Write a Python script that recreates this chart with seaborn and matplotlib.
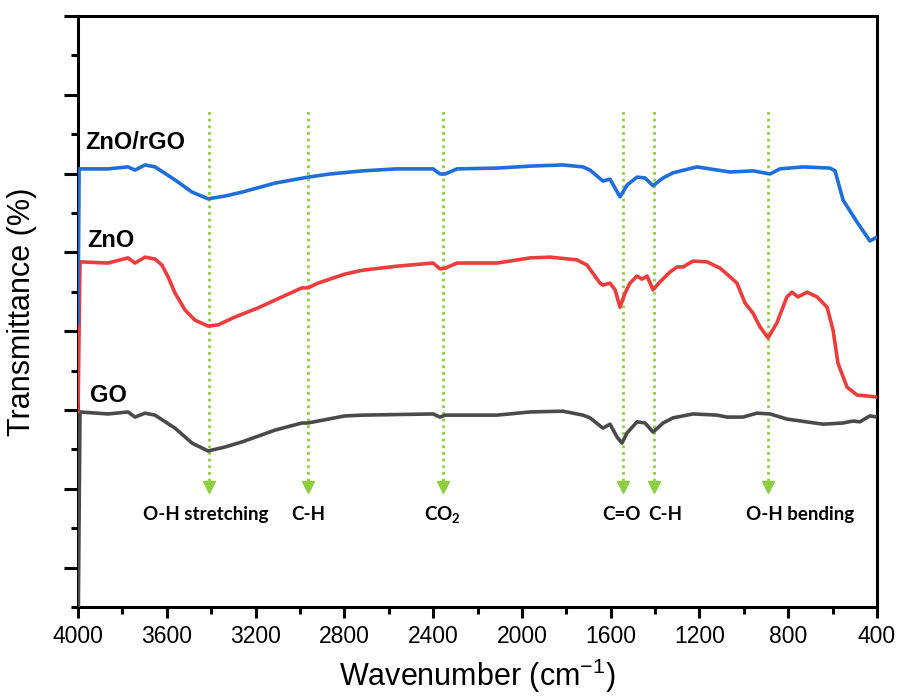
import numpy as np
import pandas as pd
import matplotlib
matplotlib.use("Agg")
import matplotlib.pyplot as plt
import seaborn as sns

# FTIR spectra (wavenumber in cm^-1, transmittance in stacked arbitrary units)
go_wn = [4000, 3991, 3865, 3775, 3743, 3698, 3653, 3563, 3486, 3414, 3338, 3261,
         3112, 2991, 2964, 2797, 2716, 2400, 2369, 2346, 2112, 1963, 1815, 1725,
         1693, 1635, 1603, 1571, 1549, 1526, 1481, 1445, 1409, 1364, 1319, 1229,
         1121, 1076, 1004, 941, 882, 806, 643, 553, 508, 477, 432, 400]
go_t = [-1.0, 4.95, 4.90, 4.95, 4.82, 4.92, 4.87, 4.54, 4.16, 3.96, 4.06, 4.19,
        4.49, 4.67, 4.67, 4.85, 4.87, 4.90, 4.82, 4.87, 4.87, 4.95, 4.97, 4.87,
        4.80, 4.54, 4.64, 4.31, 4.16, 4.42, 4.70, 4.67, 4.44, 4.67, 4.80, 4.90,
        4.87, 4.82, 4.82, 4.92, 4.90, 4.77, 4.64, 4.67, 4.72, 4.70, 4.85, 4.82]

zno_wn = [4000, 3991, 3865, 3775, 3743, 3698, 3653, 3622, 3594, 3563, 3518, 3473,
          3414, 3369, 3293, 3189, 3081, 2991, 2964, 2919, 2797, 2716, 2563, 2400,
          2369, 2346, 2292, 2112, 1963, 1873, 1752, 1707, 1648, 1635, 1603, 1580,
          1558, 1535, 1513, 1481, 1459, 1436, 1409, 1378, 1333, 1301, 1274, 1229,
          1166, 1107, 1062, 1031, 995, 959, 927, 891, 851, 806, 783, 756, 715, 670,
          625, 598, 576, 535, 490, 400]
zno_t = [4.95, 8.76, 8.73, 8.86, 8.73, 8.88, 8.83, 8.68, 8.38, 7.97, 7.54, 7.28,
         7.13, 7.16, 7.36, 7.59, 7.87, 8.10, 8.10, 8.22, 8.45, 8.55, 8.65, 8.73,
         8.58, 8.60, 8.73, 8.73, 8.86, 8.88, 8.81, 8.68, 8.22, 8.17, 8.22, 8.05,
         7.61, 7.97, 8.22, 8.40, 8.32, 8.40, 8.05, 8.25, 8.50, 8.63, 8.63, 8.78,
         8.76, 8.60, 8.38, 8.22, 7.72, 7.46, 7.11, 6.83, 7.21, 7.87, 7.99, 7.87,
         7.99, 7.87, 7.61, 7.03, 6.19, 5.58, 5.38, 5.33]

rgo_wn = [4000, 3995, 3865, 3775, 3743, 3698, 3653, 3563, 3486, 3414, 3338, 3261,
          3112, 2964, 2865, 2716, 2563, 2400, 2369, 2346, 2292, 2112, 1963, 1815,
          1725, 1693, 1635, 1603, 1558, 1526, 1481, 1445, 1409, 1364, 1319, 1211,
          1062, 959, 882, 837, 733, 612, 589, 553, 490, 432, 400]
rgo_t = [7.21, 11.12, 11.12, 11.17, 11.09, 11.22, 11.17, 10.84, 10.53, 10.36,
         10.43, 10.53, 10.76, 10.91, 10.99, 11.07, 11.12, 11.12, 10.99, 10.99,
         11.12, 11.14, 11.19, 11.22, 11.17, 11.09, 10.81, 10.86, 10.41, 10.71,
         10.91, 10.89, 10.69, 10.89, 11.02, 11.17, 11.04, 11.07, 10.99, 11.12,
         11.17, 11.14, 11.07, 10.33, 9.77, 9.29, 9.39]

# Band assignments
band_wn = [3410, 2964, 2355, 1544, 1404, 891]
band_text = ["O-H stretching", "C-H", r"$\mathbf{CO_2}$", "C=O", "C-H", "O-H bending"]
band_text_wn = [3423, 2964, 2360, 1549, 1355, 747]

series_names = ["GO", "ZnO", "ZnO/rGO"]
series_colors = ["#4a4a4a", "#ee3b3b", "#1e6edc"]
label_pos_wn = [3946, 3959, 3968]
label_pos_t = [5.36, 9.31, 11.78]

sns.set_style("white")
plt.rcParams["font.family"] = ["Liberation Sans", "DejaVu Sans"]
plt.rcParams["mathtext.fontset"] = "custom"
plt.rcParams["mathtext.rm"] = "Liberation Sans"
plt.rcParams["mathtext.bf"] = "Lato:bold"
plt.rcParams["text.color"] = "black"
plt.rcParams["axes.labelcolor"] = "black"
plt.rcParams["xtick.color"] = "black"
plt.rcParams["ytick.color"] = "black"

fig = plt.figure(figsize=(8.99, 6.98), dpi=100)
ax = fig.add_axes([78 / 899, 1 - 607 / 698, 799 / 899, 591 / 698])

frames = {
    "GO": pd.DataFrame({"wn": go_wn, "t": go_t}),
    "ZnO": pd.DataFrame({"wn": zno_wn, "t": zno_t}),
    "ZnO/rGO": pd.DataFrame({"wn": rgo_wn, "t": rgo_t}),
}
for name, color in zip(series_names, series_colors):
    sns.lineplot(data=frames[name], x="wn", y="t", ax=ax, color=color,
                 linewidth=2.6, sort=False, zorder=3)

for name, x, y in zip(series_names, label_pos_wn, label_pos_t):
    ax.text(x, y, name, fontsize=17, fontweight="bold", ha="left", va="center",
            color="black")

# Dotted guide arrows for the band positions
green = "#8dcf3f"
ax.vlines(band_wn, 3.2, 12.66, colors=green, linestyles=(0, (1, 1.4)),
          linewidth=2.0, zorder=2)
ax.plot(band_wn, [3.05] * len(band_wn), linestyle="none", marker="v",
        markersize=8, color=green, zorder=2)
for x, txt in zip(band_text_wn, band_text):
    ax.text(x, 2.36, txt, fontsize=13.5, fontweight="bold", family="Lato",
            ha="center", va="center", color="black")

ax.set_xlim(4000, 400)
ax.set_ylim(0, 15)
ax.set_xticks(np.arange(4000, 399, -400))
ax.set_xticks(np.arange(3800, 400, -400), minor=True)
ax.set_yticks(np.arange(1, 16, 2))
ax.set_yticks(np.arange(0, 15, 2), minor=True)
ax.set_yticklabels([])

for s in ax.spines.values():
    s.set_linewidth(2.2)
    s.set_color("black")
    s.set_visible(True)

ax.tick_params(axis="x", which="major", direction="out", length=8, width=2.2,
               labelsize=16.5, pad=5, colors="black", bottom=True, top=False)
ax.tick_params(axis="x", which="minor", direction="out", length=5, width=2.2,
               bottom=True, top=False)
ax.tick_params(axis="y", which="major", direction="out", length=10, width=2.2,
               left=True, right=False)
ax.tick_params(axis="y", which="minor", direction="out", length=5, width=2.2,
               left=True, right=False)

ax.set_xlabel("Wavenumber (cm$^{-1}$)", fontsize=22, labelpad=6, color="black")
ax.set_ylabel("Transmittance (%)", fontsize=22, labelpad=16, color="black")

fig.savefig("out.png", dpi=100)
